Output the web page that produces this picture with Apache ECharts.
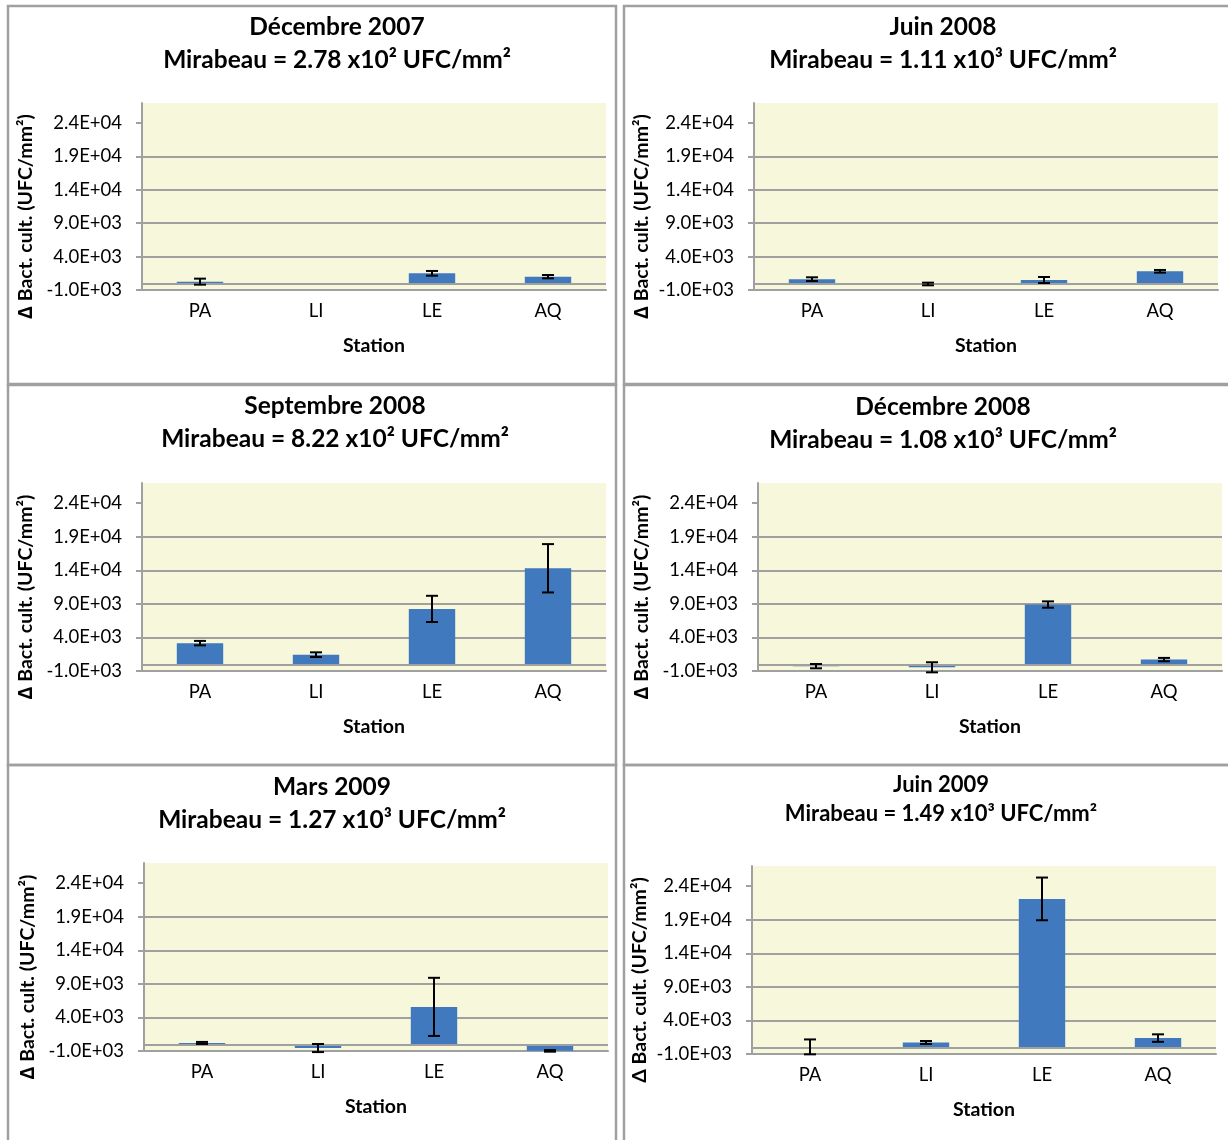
<!DOCTYPE html>
<html><head><meta charset="utf-8">
<script src="https://cdn.jsdelivr.net/npm/echarts@6/dist/echarts.min.js"></script>
<style>html,body{margin:0;padding:0;background:#fff}#c{width:1228px;height:1140px}</style>
</head><body><div id="c"></div>
<script>
// ---------------- data ----------------
const stations = ['PA', 'LI', 'LE', 'AQ'];
const yTicks = [-1000, 4000, 9000, 14000, 19000, 24000];
const periods = ['Décembre 2007', 'Juin 2008', 'Septembre 2008', 'Décembre 2008', 'Mars 2009', 'Juin 2009'];
const mirabeau = ['2.78 x10²', '1.11 x10³', '8.22 x10²', '1.08 x10³', '1.27 x10³', '1.49 x10³'];

const dec2007 = [250, null, 1500, 1000];
const dec2007Err = [450, null, 350, 250];
const jun2008 = [620, -100, 500, 1800];
const jun2008Err = [280, 200, 450, 200];
const sep2008 = [3150, 1430, 8250, 14300];
const sep2008Err = [330, 350, 1950, 3600];
const dec2008 = [-280, -450, 8900, 700];
const dec2008Err = [320, 750, 470, 250];
const mar2009 = [200, -560, 5570, -980];
const mar2009Err = [150, 600, 4330, 120];
const jun2009 = [60, 720, 22100, 1370];
const jun2009Err = [1110, 220, 3180, 560];

const seriesVals = [dec2007, jun2008, sep2008, dec2008, mar2009, jun2009];
const seriesErrs = [dec2007Err, jun2008Err, sep2008Err, dec2008Err, mar2009Err, jun2009Err];

// ---------------- layout / style ----------------
const FONT = 'Lato, "Open Sans", sans-serif';
const GRAY = '#a0a0a0';
const layout = [
  {g: [142, 103, 464, 187], t: [337, 10.5], fs: 24.5, lh: 33, ng: 106, delta: '∆'},
  {g: [754, 103, 464, 187], t: [943, 10.5], fs: 24.5, lh: 33, ng: 102, delta: '∆'},
  {g: [142, 483, 464, 188], t: [335, 390], fs: 24.5, lh: 33, ng: 106, delta: '∆'},
  {g: [758, 483, 464, 188], t: [943, 391], fs: 24.5, lh: 33, ng: 106, delta: '∆'},
  {g: [144, 863, 464, 188], t: [332, 771], fs: 24.5, lh: 33, ng: 106, delta: '∆'},
  {g: [752, 866, 464, 188], t: [941, 770.5], fs: 22, lh: 29, ng: 102, delta: 'Δ'}
];
const panelsBox = [
  [8, 6, 608, 378], [624, 6, 612, 378],
  [8, 385, 608, 380], [624, 385, 612, 380],
  [8, 765, 608, 380], [624, 765, 612, 380]
];

function sci(v) {
  const s = Number(v).toExponential(1);
  const parts = s.split('e');
  const e = parseInt(parts[1], 10);
  return parts[0] + 'E' + (e < 0 ? '-' : '+') + String(Math.abs(e)).padStart(2, '0');
}

const grids = [], xAxes = [], yAxes = [], series = [], titles = [], graphics = [];

panelsBox.forEach(b => graphics.push({
  type: 'rect', shape: {x: b[0], y: b[1], width: b[2], height: b[3]},
  style: {fill: 'none', stroke: GRAY, lineWidth: 2.5}, silent: true, z: 0
}));

layout.forEach((L, i) => {
  grids.push({left: L.g[0], top: L.g[1], width: L.g[2], height: L.g[3],
    show: true, backgroundColor: '#f7f7dc', borderWidth: 0, containLabel: false});
  titles.push({
    text: periods[i] + '\nMirabeau = ' + mirabeau[i] + ' UFC/mm²',
    left: L.t[0], top: L.t[1], textAlign: 'center', textVerticalAlign: 'top', padding: 0,
    textStyle: {fontFamily: FONT, fontSize: L.fs, fontWeight: 'bold', color: '#000', lineHeight: L.lh}
  });
  xAxes.push({
    type: 'category', gridIndex: i, data: stations,
    axisLine: {onZero: false, lineStyle: {color: GRAY, width: 2}},
    axisTick: {show: false},
    axisLabel: {fontFamily: FONT, fontSize: 18.5, color: '#000', margin: 12},
    name: 'Station', nameLocation: 'middle', nameGap: 46,
    nameTextStyle: {fontFamily: FONT, fontSize: 19.5, fontWeight: 'bold', color: '#000'}
  });
  yAxes.push({
    type: 'value', gridIndex: i, min: -1000, max: 27000,
    axisLine: {show: true, lineStyle: {color: GRAY, width: 2}},
    axisTick: {show: true, length: 6, customValues: yTicks, lineStyle: {color: GRAY, width: 2}},
    axisLabel: {customValues: yTicks, formatter: sci, fontFamily: FONT, fontSize: 18.5, color: '#000', margin: 20},
    splitLine: {show: true, showMaxLine: false, lineStyle: {color: GRAY, width: 2}},
    name: L.delta + ' Bact. cult. (UFC/mm²)', nameLocation: 'middle', nameGap: L.ng, nameRotate: 90,
    nameTextStyle: {fontFamily: FONT, fontSize: 19.5, fontWeight: 'bold', color: '#000', padding: [0, 40, 0, 0]}
  });
  series.push({
    type: 'bar', xAxisIndex: i, yAxisIndex: i, data: seriesVals[i].map(v => v == null ? '-' : v),
    barWidth: '40%', itemStyle: {color: '#4079bd'}, animation: false,
    markLine: {silent: true, symbol: 'none', label: {show: false}, animation: false,
      lineStyle: {color: GRAY, width: 2, type: 'solid'}, data: [{yAxis: 0}]}
  });
  const errData = [];
  seriesVals[i].forEach((v, k) => {
    if (v != null && seriesErrs[i][k] != null) errData.push([k, v - seriesErrs[i][k], v + seriesErrs[i][k]]);
  });
  series.push({
    type: 'custom', xAxisIndex: i, yAxisIndex: i, data: errData, animation: false, clip: false, z: 5,
    renderItem(params, api) {
      const x = api.value(0);
      const lo = api.coord([x, api.value(1)]);
      const hi = api.coord([x, api.value(2)]);
      const w = 6;
      const st = {stroke: '#000', lineWidth: 2};
      return {type: 'group', children: [
        {type: 'line', shape: {x1: hi[0], y1: hi[1], x2: lo[0], y2: lo[1]}, style: st},
        {type: 'line', shape: {x1: hi[0] - w, y1: hi[1], x2: hi[0] + w, y2: hi[1]}, style: st},
        {type: 'line', shape: {x1: lo[0] - w, y1: lo[1], x2: lo[0] + w, y2: lo[1]}, style: st}
      ]};
    }
  });
});

const chart = echarts.init(document.getElementById('c'), null, {renderer: 'canvas'});
chart.setOption({
  animation: false, backgroundColor: '#fff',
  title: titles, grid: grids, xAxis: xAxes, yAxis: yAxes, series: series, graphic: graphics
});
</script></body></html>
